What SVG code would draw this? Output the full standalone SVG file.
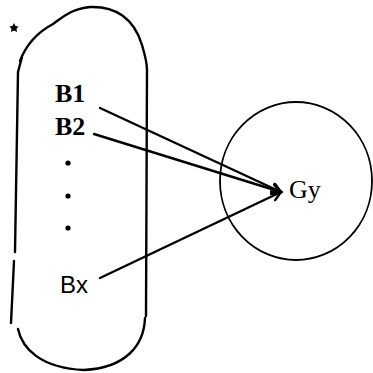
<svg xmlns="http://www.w3.org/2000/svg" width="373" height="373" viewBox="0 0 373 373">
<defs>
<style>
.ln{fill:none;stroke:#000;stroke-width:2.4;stroke-linecap:round;stroke-linejoin:round}
.thin{fill:none;stroke:#000;stroke-width:1.8}
.lb{font-family:"Liberation Serif","Times New Roman",serif;font-size:26px;fill:#000}
</style>
<marker id="ah" viewBox="0 0 12 12" refX="10" refY="6" markerWidth="12" markerHeight="12" markerUnits="userSpaceOnUse" orient="auto">
<path d="M1,1 L10,6 L1,11" fill="none" stroke="#000" stroke-width="2.4" stroke-linecap="round"/>
</marker>
</defs>
<rect width="373" height="373" fill="#fff"/>
<g id="set-B">
<path class="ln" d="M20,61 C26,45 38,32 53,24 C62,18 70,9 90,7 C115,6 134,18 142,45 C145,55 147,62 147,70 L146,316"/>
<path class="ln" d="M22,57 L18,72 L15,252"/>
<path class="ln" d="M14,261 L11,323"/>
<path class="ln" d="M18,329 C22,348 40,368 84,370 C125,368 144,346 145,318"/>
<path d="M14,23 L15.5,26 L18.5,26.5 L16.5,29 L17,32 L14,30.5 L11,32 L11.5,29 L9.5,26.5 L12.5,26 Z" fill="#000"/>
<text class="lb" x="55" y="102" font-family="Liberation Serif, serif" font-weight="bold">B1</text>
<text class="lb" x="55" y="135" font-family="Liberation Serif, serif" font-weight="bold">B2</text>
<circle cx="68" cy="163" r="2.6"/>
<circle cx="68" cy="196" r="2.6"/>
<circle cx="68" cy="228" r="2.6"/>
<text x="60" y="293" font-family="Liberation Sans, Arial, sans-serif" font-size="24px">Bx</text>
</g>
<g id="set-G">
<ellipse class="thin" cx="296" cy="181" rx="76" ry="79"/>
<text class="lb" x="289" y="198" font-family="Liberation Serif, serif">Gy</text>
</g>
<g id="connectors">
<line class="ln" x1="100" y1="108" x2="281" y2="192" marker-end="url(#ah)"/>
<line class="ln" x1="94" y1="134" x2="281" y2="192" marker-end="url(#ah)"/>
<line class="ln" x1="100" y1="278" x2="281" y2="192" marker-end="url(#ah)"/>
</g>
</svg>
